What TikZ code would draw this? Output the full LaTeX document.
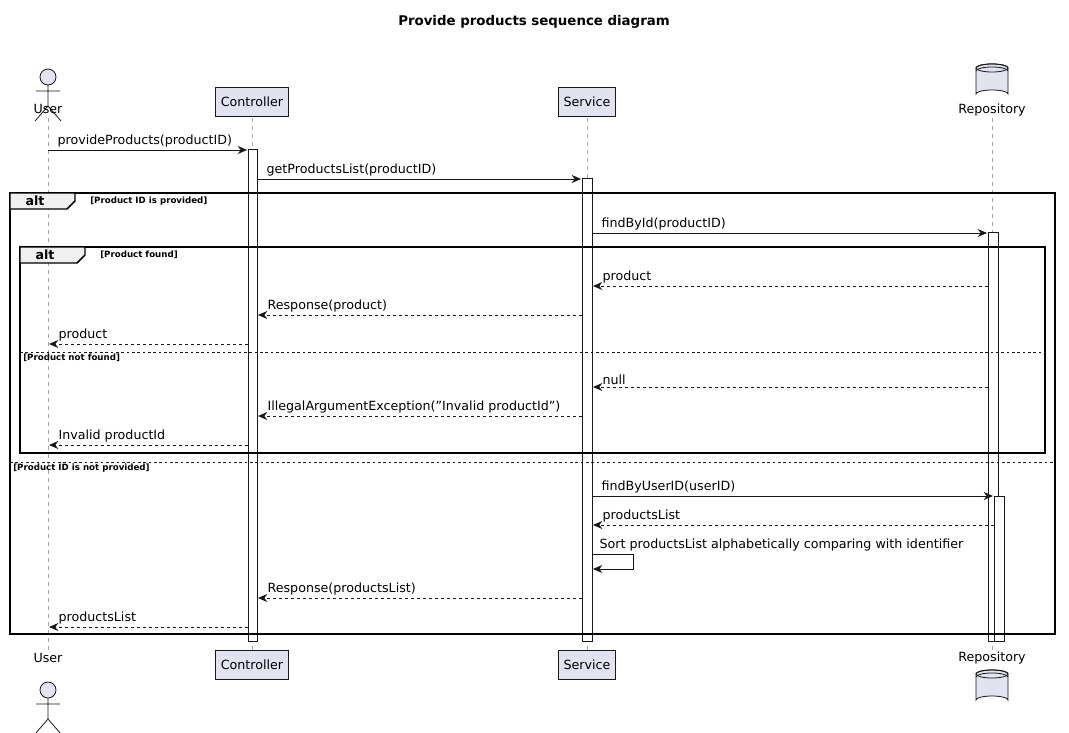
\documentclass[tikz,border=0pt]{standalone}
\usepackage{fontspec}
\setmainfont{DejaVu Sans}
\usetikzlibrary{arrows.meta,shapes.geometric}
\definecolor{partfill}{HTML}{E2E2F0}
\definecolor{partline}{HTML}{181818}
\tikzset{
  part/.style={draw=partline,fill=partfill,minimum height=22pt,inner xsep=4pt,font=\fontsize{9.5}{11}\selectfont},
  life/.style={draw=gray!70,dashed,dash pattern=on 3pt off 3pt,line width=0.5pt},
  act/.style={draw=partline,fill=white,line width=0.6pt},
  call/.style={-{Stealth[length=7pt,width=6pt]},line width=0.6pt,draw=partline},
  reply/.style={call,dash pattern=on 2.5pt off 2pt},
  lbl/.style={font=\fontsize{9.5}{11}\selectfont,inner sep=1pt},
  cond/.style={font=\bfseries\fontsize{6.5}{8}\selectfont,anchor=west,inner sep=0pt},
  frame/.style={draw=black,line width=1.1pt},
}
\newcommand{\actorat}[2]{% x, head centre y
  \draw[draw=partline,fill=partfill,line width=0.6pt] (#1,#2) circle (6pt);
  \draw[draw=partline,line width=0.6pt] (#1,#2+8) -- (#1,#2+29)
    (#1-12,#2+14) -- (#1+12,#2+14)
    (#1-13,#2+44) -- (#1,#2+29) -- (#1+13,#2+44);}
\newcommand{\dbat}[2]{% x, top y
  \draw[draw=partline,fill=partfill,line width=0.6pt]
    (#1-16,#2+4) -- (#1-16,#2+30) arc[start angle=180,end angle=360,x radius=16,y radius=4]
    -- (#1+16,#2+4) arc[start angle=0,end angle=-180,x radius=16,y radius=4];
  \draw[draw=partline,fill=partfill,line width=0.6pt] (#1,#2+4) ellipse[x radius=16,y radius=4];
  \draw[draw=partline,line width=0.6pt] (#1-16,#2+4) arc[start angle=180,end angle=360,x radius=16,y radius=4]
    (#1-16,#2+7) arc[start angle=180,end angle=360,x radius=16,y radius=4];}
\begin{document}
\begin{tikzpicture}[x=0.75pt,y=-0.75pt]
\useasboundingbox (0,0) rectangle (1069,732);
\node[font=\bfseries\fontsize{10}{12}\selectfont] (title) at (534,22) {Provide products sequence diagram};
% lifelines
\foreach \n/\x in {user/48,ctrl/252,serv/587,repo/992}{
  \coordinate (\n T) at (\x,118);
  \coordinate (\n B) at (\x,650);
  \draw[life] (\n T) -- (\n B);
}
% heads
\actorat{48}{77}
\node[lbl] (userH) at (48,109) {User};
\node[part] (ctrlH) at (252,102) {Controller};
\node[part] (servH) at (587,102) {Service};
\dbat{992}{64}
\node[lbl] (repoH) at (992,110) {Repository};
% feet
\node[lbl] (userF) at (48,658) {User};
\actorat{48}{690}
\node[part] (ctrlF) at (252,665) {Controller};
\node[part] (servF) at (587,665) {Service};
\node[lbl] (repoF) at (992,658) {Repository};
\dbat{992}{670}
% activations
\draw[act] (248,149) rectangle (257,641);
\draw[act] (582,178) rectangle (592,641);
\draw[act] (988,232) rectangle (998,641);
\draw[act] (994,496) rectangle (1004,641);
% frames
\draw[frame] (10,193) rectangle (1055,634);
\draw[frame,fill=gray!12] (10,193) -- (75,193) -- (75,201) -- (67,209) -- (10,209) -- cycle;
\node[font=\bfseries\fontsize{9.5}{11}\selectfont] (alt1) at (35,201) {alt};
\node[cond] (c1) at (90,201) {[Product ID is provided]};
\draw[frame] (20,247) rectangle (1045,453);
\draw[frame,fill=gray!12] (20,247) -- (85,247) -- (85,255) -- (77,263) -- (20,263) -- cycle;
\node[font=\bfseries\fontsize{9.5}{11}\selectfont] (alt2) at (45,255) {alt};
\node[cond] (c2) at (100,255) {[Product found]};
\draw[partline,dash pattern=on 2pt off 2pt] (20,352) -- (1045,352);
\node[cond] (c3) at (23,358) {[Product not found]};
\draw[partline,dash pattern=on 2pt off 2pt] (10,462) -- (1055,462);
\node[cond] (c4) at (13,468) {[Product ID is not provided]};
% messages
\foreach \i/\y/\a/\b/\s/\t in {
  1/150/48/247/call/provideProducts(productID),
  2/179/257/581/call/getProductsList(productID),
  3/233/592/987/call/findById(productID),
  4/286/988/593/reply/product,
  5/315/582/258/reply/Response(product),
  6/344/248/49/reply/product,
  7/387/988/593/reply/null,
  8/416/582/258/reply/IllegalArgumentException("Invalid productId"),
  9/445/248/49/reply/Invalid productId,
  10/496/592/993/call/findByUserID(userID),
  11/525/994/593/reply/productsList,
  13/598/582/258/reply/Response(productsList),
  14/627/248/49/reply/productsList}{
  \coordinate (m\i s) at (\a,\y);
  \coordinate (m\i e) at (\b,\y);
  \draw[\s] (m\i s) -- (m\i e);
  \pgfmathsetmacro{\lx}{min(\a,\b)+8}
  \node[lbl,anchor=south west] (l\i) at (\lx,\y-1) {\t};
}
% self message
\coordinate (m12s) at (592,554);
\coordinate (m12a) at (633,554);
\coordinate (m12b) at (633,569);
\coordinate (m12e) at (593,569);
\draw[call] (m12s) -- (m12a) -- (m12b) -- (m12e);
\node[lbl,anchor=south west] (l12) at (598,553) {Sort productsList alphabetically comparing with identifier};
\end{tikzpicture}
\end{document}
